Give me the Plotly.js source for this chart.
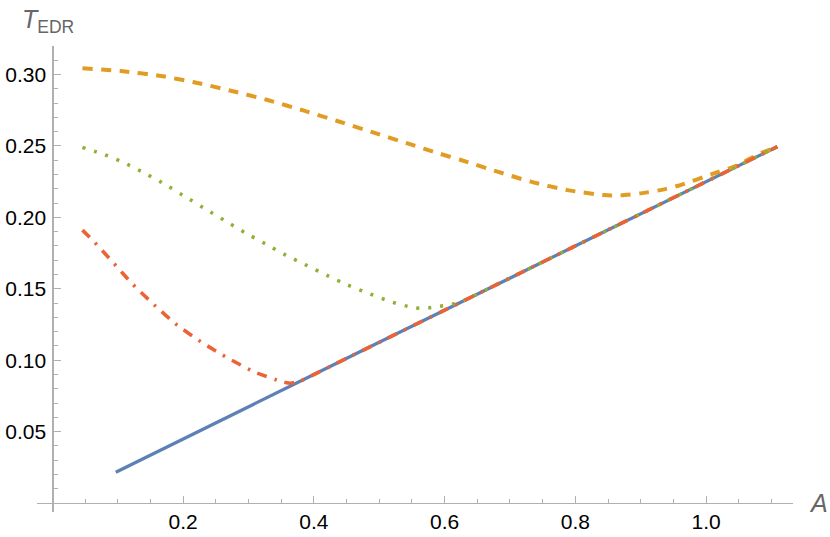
<!DOCTYPE html>
<html>
<head>
<meta charset="utf-8">
<script src="https://cdn.plot.ly/plotly-3.0.1.min.js"></script>
<style>html,body{margin:0;padding:0;background:#fff;}#chart{width:830px;height:537px;}</style>
</head>
<body>
<div id="chart"></div>
<script>
// ---- data ----
const blueA = [0.097, 0.2, 0.3, 0.4, 0.5, 0.6, 0.7, 0.8, 0.9, 1.0, 1.109];
const blueT = [0.0215, 0.045, 0.0675, 0.090, 0.1125, 0.135, 0.1575, 0.180, 0.2025, 0.225, 0.2495];

const orangeA = [0.046, 0.105, 0.166, 0.217, 0.273, 0.329, 0.385, 0.436, 0.492, 0.546, 0.591, 0.625, 0.681, 0.732, 0.788, 0.844, 0.869, 0.900, 0.930, 0.961, 1.012, 1.043, 1.083, 1.109];
const orangeT = [0.3044, 0.3025, 0.2990, 0.2946, 0.2887, 0.2822, 0.2747, 0.2675, 0.2593, 0.2514, 0.2448, 0.2402, 0.2320, 0.2250, 0.2191, 0.2156, 0.2154, 0.2168, 0.2191, 0.2226, 0.2308, 0.2355, 0.2448, 0.2495];

const greenA = [0.046, 0.079, 0.112, 0.144, 0.175, 0.205, 0.235, 0.265, 0.295, 0.326, 0.357, 0.389, 0.420, 0.452, 0.484, 0.518, 0.551, 0.571, 0.586, 0.604, 0.620, 0.640, 0.700, 0.800, 0.900, 1.000, 1.109];
const greenT = [0.2490, 0.2441, 0.2378, 0.2303, 0.2224, 0.2140, 0.2056, 0.1974, 0.1892, 0.1815, 0.1736, 0.1664, 0.1594, 0.1526, 0.1467, 0.1409, 0.1369, 0.1362, 0.1374, 0.1385, 0.1400, 0.1440, 0.1575, 0.1800, 0.2025, 0.2250, 0.2495];

const redA = [0.046, 0.0615, 0.092, 0.1226, 0.158, 0.191, 0.2297, 0.268, 0.3086, 0.352, 0.3647, 0.380, 0.450, 0.500, 0.600, 0.700, 0.800, 0.900, 1.000, 1.109];
const redT = [0.1911, 0.1841, 0.1689, 0.1533, 0.1378, 0.1245, 0.1121, 0.1016, 0.0918, 0.0848, 0.0839, 0.0855, 0.1013, 0.1125, 0.1350, 0.1575, 0.1800, 0.2025, 0.2250, 0.2495];

const xTickVals = [0.2, 0.4, 0.6, 0.8, 1.0];
const xTickText = ["0.2", "0.4", "0.6", "0.8", "1.0"];
const yTickVals = [0.05, 0.10, 0.15, 0.20, 0.25, 0.30];
const yTickText = ["0.05", "0.10", "0.15", "0.20", "0.25", "0.30"];

// ---- styling ----
const xr = [-0.0235, 1.133];
const yr = [-0.0063, 0.320];
const axisGray = '#b0b0b0';
const tickFont = {family: 'Liberation Sans, Arial, sans-serif', size: 21, color: '#000'};

const traces = [
  {x: blueA, y: blueT, mode: 'lines', line: {color: '#5E81B5', width: 3.3}},
  {x: orangeA, y: orangeT, mode: 'lines', line: {color: '#E19C24', width: 4, dash: '10px,8.5px', shape: 'spline', smoothing: 0.6}},
  {x: greenA, y: greenT, mode: 'lines', line: {color: '#8FB032', width: 3.5, dash: '3px,9px', shape: 'spline', smoothing: 0.5}},
  {x: redA, y: redT, mode: 'lines', line: {color: '#EB6235', width: 3.6, dash: '10px,8px,2.5px,8px', shape: 'spline', smoothing: 0.4}}
];

const layout = {
  width: 830, height: 537,
  margin: {l: 37, r: 37, t: 46, b: 25},
  paper_bgcolor: '#fff', plot_bgcolor: '#fff',
  showlegend: false,
  xaxis: {
    range: xr, anchor: 'free', position: (0 - yr[0]) / (yr[1] - yr[0]),
    showline: true, linecolor: axisGray, linewidth: 1.2,
    showgrid: false, zeroline: false,
    ticks: 'inside', ticklen: 7, tickwidth: 1, tickcolor: axisGray,
    tickvals: xTickVals, ticktext: xTickText, tickfont: tickFont,
    minor: {tick0: 0, dtick: 0.05, ticks: 'inside', ticklen: 4, tickwidth: 1, tickcolor: axisGray, showgrid: false},
    automargin: false
  },
  yaxis: {
    range: yr, anchor: 'free', position: (0 - xr[0]) / (xr[1] - xr[0]),
    showline: true, linecolor: axisGray, linewidth: 1.2,
    showgrid: false, zeroline: false,
    ticks: 'inside', ticklen: 7, tickwidth: 1, tickcolor: axisGray,
    tickvals: yTickVals, ticktext: yTickText, tickfont: tickFont, ticklabelstandoff: 2,
    minor: {tick0: 0, dtick: 0.01, ticks: 'inside', ticklen: 4, tickwidth: 1, tickcolor: axisGray, showgrid: false},
    automargin: false
  },
  annotations: [
    {xref: 'paper', yref: 'paper', x: 1.0, y: (0 - yr[0]) / (yr[1] - yr[0]), xanchor: 'left', yanchor: 'middle', xshift: 14,
     text: '<i>A</i>', showarrow: false, font: {family: 'Liberation Sans, Arial, sans-serif', size: 25, color: '#666'}},
    {xref: 'paper', yref: 'paper', x: 0, y: 1, xanchor: 'left', yanchor: 'bottom', xshift: -17, yshift: 7,
     text: '<i>T</i><sub>EDR</sub>', showarrow: false, font: {family: 'Liberation Sans, Arial, sans-serif', size: 25, color: '#666'}}
  ]
};

Plotly.newPlot('chart', traces, layout, {displayModeBar: false, staticPlot: true});
</script>
</body>
</html>
